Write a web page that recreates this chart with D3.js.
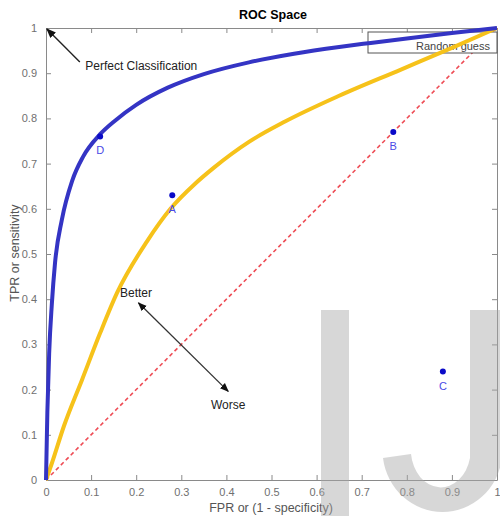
<!DOCTYPE html>
<html>
<head>
    <style>
        body { margin: 0; background: #fff; }
        svg text { font-family: "Liberation Sans", Arial, sans-serif; }
    </style>
</head>
<body>
<div id="chart"></div>
<script src="https://cdnjs.cloudflare.com/ajax/libs/d3/7.8.5/d3.min.js"></script>
<script>
    // curves as [fpr, tpr]
    const blueCurve = [[0, 0], [0.003, 0.15], [0.007, 0.28], [0.013, 0.39], [0.02, 0.48], [0.035, 0.575],
        [0.058, 0.662], [0.082, 0.715], [0.12, 0.765], [0.153, 0.795], [0.2, 0.83], [0.27, 0.868],
        [0.35, 0.898], [0.45, 0.924], [0.55, 0.943], [0.65, 0.958], [0.72, 0.967], [0.8, 0.977],
        [0.9, 0.989], [1, 1]];
    const yellowCurve = [[0, 0], [0.013, 0.037], [0.04, 0.12], [0.08, 0.222], [0.12, 0.325], [0.158, 0.415],
        [0.224, 0.528], [0.276, 0.6], [0.33, 0.655], [0.371, 0.69], [0.45, 0.748], [0.53, 0.793],
        [0.65, 0.85], [0.787, 0.908], [0.9, 0.956], [1, 1]];
    const randomGuess = [[0, 0], [1, 1]];

    const pointNames = ["A", "B", "C", "D"];
    const pointFpr = [0.28, 0.77, 0.88, 0.12];
    const pointTpr = [0.63, 0.77, 0.24, 0.76];

    const xTicks = [0, 0.1, 0.2, 0.3, 0.4, 0.5, 0.6, 0.7, 0.8, 0.9, 1];
    const yTicks = [0, 0.1, 0.2, 0.3, 0.4, 0.5, 0.6, 0.7, 0.8, 0.9, 1];

    const width = 500, height = 516;
    const margin = { top: 28, right: 3, bottom: 36, left: 46 };

    const svg = d3.select("#chart").append("svg")
        .attr("width", width)
        .attr("height", height);

    const x = d3.scaleLinear().domain([0, 1]).range([margin.left, width - margin.right]);
    const y = d3.scaleLinear().domain([0, 1]).range([height - margin.bottom, margin.top]);

    const fmt = d => d === 0 || d === 1 ? String(d) : d.toFixed(1);

    // axes, MATLAB style: box with inward ticks
    const axisColor = "#8a8a8a";
    function styleAxis(g, showLabels) {
        g.select(".domain").attr("stroke", axisColor);
        g.selectAll(".tick line").attr("stroke", axisColor);
        g.selectAll(".tick text").attr("fill", "#707070").style("font-size", "11px");
        if (!showLabels) g.selectAll(".tick text").remove();
    }

    svg.append("g")
        .attr("transform", `translate(0,${y(0)})`)
        .call(d3.axisBottom(x).tickValues(xTicks).tickFormat(fmt).tickSizeInner(-5).tickSizeOuter(0).tickPadding(8))
        .call(g => styleAxis(g, true));
    svg.append("g")
        .attr("transform", `translate(0,${y(1)})`)
        .call(d3.axisTop(x).tickValues(xTicks).tickSizeInner(-5).tickSizeOuter(0))
        .call(g => styleAxis(g, false));
    svg.append("g")
        .attr("transform", `translate(${x(0)},0)`)
        .call(d3.axisLeft(y).tickValues(yTicks).tickFormat(fmt).tickSizeInner(-5).tickSizeOuter(0).tickPadding(9))
        .call(g => styleAxis(g, true));
    svg.append("g")
        .attr("transform", `translate(${x(1)},0)`)
        .call(d3.axisRight(y).tickValues(yTicks).tickSizeInner(-5).tickSizeOuter(0))
        .call(g => styleAxis(g, false));

    // title and axis labels
    svg.append("text")
        .attr("x", 273).attr("y", 19)
        .attr("text-anchor", "middle")
        .style("font-size", "12.5px").style("font-weight", "bold")
        .text("ROC Space");
    svg.append("text")
        .attr("x", 271).attr("y", 512)
        .attr("text-anchor", "middle")
        .attr("fill", "#555")
        .style("font-size", "12.5px")
        .text("FPR or (1 - specificity)");
    svg.append("text")
        .attr("transform", "translate(19,253) rotate(-90)")
        .attr("text-anchor", "middle")
        .attr("fill", "#555")
        .style("font-size", "12.5px")
        .text("TPR or sensitivity");

    const line = d3.line().x(d => x(d[0])).y(d => y(d[1]));
    const smooth = d3.line().x(d => x(d[0])).y(d => y(d[1])).curve(d3.curveMonotoneX);

    // random guess diagonal
    svg.append("path")
        .attr("d", line(randomGuess))
        .attr("fill", "none")
        .attr("stroke", "#ee4c55")
        .attr("stroke-width", 1.6)
        .attr("stroke-dasharray", "4,3");

    // legend
    svg.append("rect")
        .attr("x", 368).attr("y", 32).attr("width", 129).attr("height", 21)
        .attr("fill", "#fff").attr("stroke", "#555").attr("stroke-width", 1);
    svg.append("text")
        .attr("x", 490).attr("y", 50)
        .attr("text-anchor", "end")
        .attr("fill", "#444")
        .style("font-size", "11px")
        .text("Random guess");

    svg.append("path")
        .attr("d", smooth(yellowCurve))
        .attr("fill", "none")
        .attr("stroke", "#f6c21a")
        .attr("stroke-width", 4);
    svg.append("path")
        .attr("d", smooth(blueCurve))
        .attr("fill", "none")
        .attr("stroke", "#3434c4")
        .attr("stroke-width", 4);

    // labelled points
    svg.selectAll("circle.pt")
        .data(pointNames)
        .enter().append("circle")
        .attr("class", "pt")
        .attr("cx", (d, i) => x(pointFpr[i]))
        .attr("cy", (d, i) => y(pointTpr[i]))
        .attr("r", 3)
        .attr("fill", "#0a0ac8");
    svg.selectAll("text.pt")
        .data(pointNames)
        .enter().append("text")
        .attr("class", "pt")
        .attr("x", (d, i) => x(pointFpr[i]))
        .attr("y", (d, i) => y(pointTpr[i]) + 18)
        .attr("text-anchor", "middle")
        .attr("fill", "#4a4ae6")
        .style("font-size", "11px")
        .text(d => d);

    // annotations
    const defs = svg.append("defs");
    defs.append("marker")
        .attr("id", "head")
        .attr("viewBox", "0 0 10 10")
        .attr("refX", 9).attr("refY", 5)
        .attr("markerWidth", 7).attr("markerHeight", 7)
        .attr("orient", "auto-start-reverse")
        .append("path")
        .attr("d", "M0,1 L10,5 L0,9 z")
        .attr("fill", "#111");

    svg.append("line")
        .attr("x1", x(0.075)).attr("y1", y(0.925))
        .attr("x2", x(0.002)).attr("y2", y(0.998))
        .attr("stroke", "#222").attr("stroke-width", 1.4)
        .attr("marker-end", "url(#head)");
    svg.append("text")
        .attr("x", x(0.087)).attr("y", y(0.907))
        .attr("fill", "#222")
        .style("font-size", "12px")
        .text("Perfect Classification");

    svg.append("line")
        .attr("x1", x(0.205)).attr("y1", y(0.392))
        .attr("x2", x(0.404)).attr("y2", y(0.196))
        .attr("stroke", "#333").attr("stroke-width", 1.3)
        .attr("marker-start", "url(#head)")
        .attr("marker-end", "url(#head)");
    svg.append("text")
        .attr("x", x(0.164)).attr("y", y(0.404))
        .attr("fill", "#222")
        .style("font-size", "12px")
        .text("Better");
    svg.append("text")
        .attr("x", x(0.404)).attr("y", y(0.158))
        .attr("text-anchor", "middle")
        .attr("fill", "#222")
        .style("font-size", "12px")
        .text("Worse");

    // "IJ" watermark over the lower right
    const mark = svg.append("g").attr("fill", "#a8a8a8").attr("opacity", 0.45);
    mark.append("rect").attr("x", 321).attr("y", 310).attr("width", 28).attr("height", 206);
    mark.append("path")
        .attr("d", "M470,310 L502,310 L502,458 A60,62 0 0 1 383,458 L411,454 A30,38 0 0 0 470,458 Z");
</script>
</body>
</html>
